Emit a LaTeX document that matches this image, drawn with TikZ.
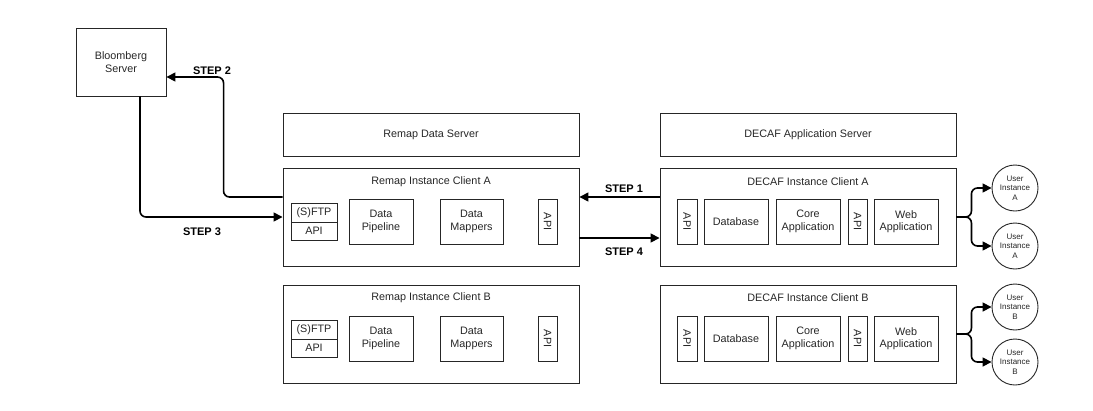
\documentclass[tikz,border=0pt]{standalone}
\usepackage{fontspec}
\setmainfont{Liberation Sans}
\usetikzlibrary{arrows.meta,positioning}

\begin{document}
\begin{tikzpicture}[x=1pt,y=-1pt,
        every node/.style={font=\fontsize{10.8}{12.5}\selectfont,text=black!85,align=center},
        blk/.style={draw=black!85,line width=0.9pt,inner sep=0pt},
        usr/.style={blk,circle,minimum size=46pt,font=\fontsize{8}{9.5}\selectfont},
        flow/.style={draw=black,line width=1.6pt,rounded corners=6pt,-{Triangle[length=9pt,width=9pt]}},
        lbl/.style={font=\bfseries\fontsize{11}{13}\selectfont,text=black}]
        \useasboundingbox (0,0) rectangle (1093,410);

        % servers
        \node [blk,minimum width=90pt,minimum height=68pt] (bb) at (121,62) {Bloomberg\\Server};
        \node [blk,minimum width=296pt,minimum height=43pt] (rs) at (431,134.5) {Remap Data Server};
        \node [blk,minimum width=296pt,minimum height=43pt] (ds) at (808,134.5) {DECAF Application Server};

        % client A
        \node [blk,minimum width=296pt,minimum height=98pt] (rA) at (431,217) {};
        \node (rAt) at (431,182) {Remap Instance Client A};
        \node [blk,minimum width=296pt,minimum height=98pt] (dA) at (808,217) {};
        \node (dAt) at (808,182) {DECAF Instance Client A};
        \begin{scope}[every node/.append style={blk,minimum height=45pt}]
            \node [minimum width=46pt,minimum height=19pt] (rAftp) at (314,212.5) {(S)FTP};
            \node [minimum width=46pt,minimum height=18pt] (rAin) at (314,231) {API};
            \node [minimum width=64pt] (rApipe) at (381,221.5) {Data\\Pipeline};
            \node [minimum width=63pt] (rAmap) at (471.5,221.5) {Data\\Mappers};
            \node [minimum width=19pt] (rAapi) at (547.5,221.5) {\rotatebox{-90}{API}};
            \node [minimum width=20pt] (dAapi) at (687,221.5) {\rotatebox{-90}{API}};
            \node [minimum width=64pt] (dAdb) at (736,221.5) {Database};
            \node [minimum width=64pt] (dAcore) at (808,221.5) {Core\\Application};
            \node [minimum width=19pt] (dAapii) at (857.5,221.5) {\rotatebox{-90}{API}};
            \node [minimum width=64pt] (dAweb) at (906,221.5) {Web\\Application};
        \end{scope}
        \node [usr] (uA1) at (1015,188) {User\\Instance\\A};
        \node [usr] (uA2) at (1015,246) {User\\Instance\\A};

        % client B
        \node [blk,minimum width=296pt,minimum height=98pt] (rB) at (431,334) {};
        \node (rBt) at (431,298) {Remap Instance Client B};
        \node [blk,minimum width=296pt,minimum height=98pt] (dB) at (808,334) {};
        \node (dBt) at (808,298) {DECAF Instance Client B};
        \begin{scope}[every node/.append style={blk,minimum height=45pt}]
            \node [minimum width=46pt,minimum height=19pt] (rBftp) at (314,329.5) {(S)FTP};
            \node [minimum width=46pt,minimum height=18pt] (rBin) at (314,348) {API};
            \node [minimum width=64pt] (rBpipe) at (381,338.5) {Data\\Pipeline};
            \node [minimum width=63pt] (rBmap) at (471.5,338.5) {Data\\Mappers};
            \node [minimum width=19pt] (rBapi) at (547.5,338.5) {\rotatebox{-90}{API}};
            \node [minimum width=20pt] (dBapi) at (687,338.5) {\rotatebox{-90}{API}};
            \node [minimum width=64pt] (dBdb) at (736,338.5) {Database};
            \node [minimum width=64pt] (dBcore) at (808,338.5) {Core\\Application};
            \node [minimum width=19pt] (dBapii) at (857.5,338.5) {\rotatebox{-90}{API}};
            \node [minimum width=64pt] (dBweb) at (906,338.5) {Web\\Application};
        \end{scope}
        \node [usr] (uB1) at (1015,307) {User\\Instance\\B};
        \node [usr] (uB2) at (1015,362) {User\\Instance\\B};

        % steps
        \draw [flow] ([yshift=20pt]dA.west) -- ([yshift=20pt]rA.east);
        \draw [flow] ([yshift=-21pt]rA.east) -- ([yshift=-21pt]dA.west);
        \draw [flow] ([yshift=20pt]rA.west) -- ++(-59,0) |- ([yshift=-15pt]bb.east);
        \draw [flow] ([xshift=19pt]bb.south) |- (rA.west);
        \node [lbl] (s1) at (624,189) {STEP 1};
        \node [lbl] (s2) at (212,71) {STEP 2};
        \node [lbl] (s3) at (202,232) {STEP 3};
        \node [lbl] (s4) at (624,252) {STEP 4};

        % users
        \draw [flow] (dA.east) -- ++(15,0) |- (uA1);
        \draw [flow] (dA.east) -- ++(15,0) |- (uA2);
        \draw [flow] (dB.east) -- ++(15,0) |- (uB1);
        \draw [flow] (dB.east) -- ++(15,0) |- (uB2);
    \end{tikzpicture}
\end{document}
